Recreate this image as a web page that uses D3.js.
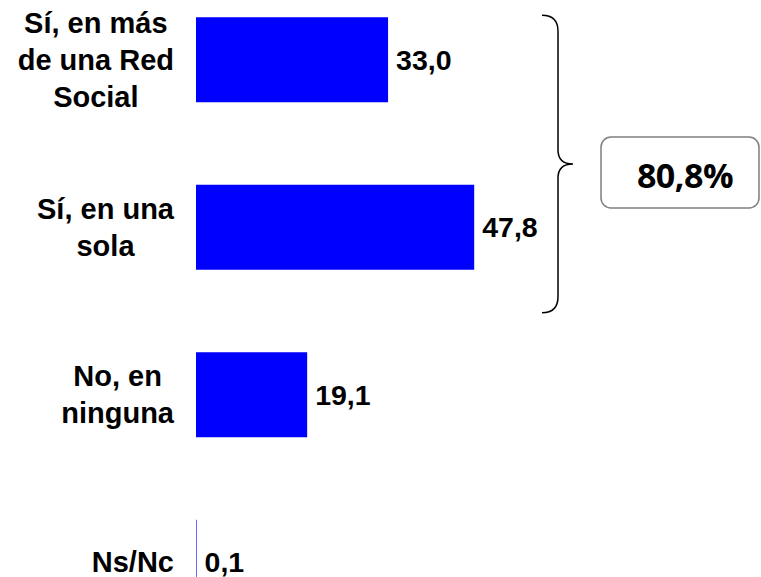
<!DOCTYPE html>
<html>
<head>
<meta charset="utf-8">
<script src="https://cdn.jsdelivr.net/npm/d3@7"></script>
<style>
  body { margin: 0; background: #fff; }
</style>
</head>
<body>
<script>
var w = 761;
var h = 577;

var categories = ["Sí, en más\nde una Red\nSocial", "Sí, en una\nsola", "No, en\nninguna", "Ns/Nc"];
var values = [33.0, 47.8, 19.1, 0.1];
var grouped = [0, 1]; // bars covered by the brace

var svg = d3.select("body")
    .append("svg")
    .attr("width", w)
    .attr("height", h);

var x = d3.scaleLinear().domain([0, 50]).range([196, 487]);
var y = d3.scaleBand()
    .domain(categories)
    .range([-24, 646])
    .paddingInner(0.4925)
    .paddingOuter(0.24625);

function fmt(v) {
    return d3.format(".1f")(v).replace(".", ",");
}

svg.selectAll("rect.bar")
    .data(values)
    .enter()
    .append("rect")
    .attr("class", "bar")
    .attr("x", x(0))
    .attr("y", function(d, i) { return y(categories[i]); })
    .attr("width", function(d) { return x(d) - x(0); })
    .attr("height", y.bandwidth())
    .attr("fill", "#0000ff");

// value labels
svg.selectAll("text.val")
    .data(values)
    .enter()
    .append("text")
    .attr("class", "val")
    .text(fmt)
    .attr("x", function(d) { return x(d) + 8; })
    .attr("y", function(d, i) { return y(categories[i]) + y.bandwidth() / 2 + 10; })
    .attr("font-family", "Liberation Sans, Arial, sans-serif")
    .attr("font-weight", "bold")
    .attr("font-size", 28.5)
    .attr("fill", "#000");

// category labels: block right aligned, lines centred in block
var lineH = 37;
var right = 174;
categories.forEach(function(c) {
    var lines = c.split("\n");
    var g = svg.append("g");
    var cy = y(c) + y.bandwidth() / 2 + 10;
    var t = g.selectAll("text")
        .data(lines)
        .enter()
        .append("text")
        .text(function(d) { return d; })
        .attr("y", function(d, i) { return cy + (i - (lines.length - 1) / 2) * lineH; })
        .attr("font-family", "Liberation Sans, Arial, sans-serif")
        .attr("font-weight", "bold")
        .attr("font-size", 29)
        .attr("text-anchor", "middle")
        .attr("fill", "#000");
    var maxW = 0;
    t.each(function() { maxW = Math.max(maxW, this.getComputedTextLength()); });
    t.attr("x", right - maxW / 2);
});

// brace
var bTop = y(categories[grouped[0]]) - 2;
var bBot = y(categories[grouped[grouped.length - 1]]) + y.bandwidth() + 43;
var mid = (bTop + bBot) / 2;
var bx = 558, ex = 542, tip = 573;
var brace = d3.path();
brace.moveTo(ex, bTop);
brace.quadraticCurveTo(bx, bTop, bx, bTop + 16);
brace.lineTo(bx, mid - 14);
brace.quadraticCurveTo(bx, mid, tip, mid);
brace.quadraticCurveTo(bx, mid, bx, mid + 14);
brace.lineTo(bx, bBot - 16);
brace.quadraticCurveTo(bx, bBot, ex, bBot);
svg.append("path")
    .attr("d", brace.toString())
    .attr("fill", "none")
    .attr("stroke", "#000")
    .attr("stroke-width", 1.5);

// total box
var total = d3.sum(grouped, function(i) { return values[i]; });
svg.append("rect")
    .attr("x", 601)
    .attr("y", 137)
    .attr("width", 158)
    .attr("height", 71)
    .attr("rx", 10)
    .attr("fill", "#fff")
    .attr("stroke", "#7f7f7f")
    .attr("stroke-width", 1.5);
svg.append("text")
    .text(fmt(total) + "%")
    .attr("x", 685)
    .attr("y", 188)
    .attr("text-anchor", "middle")
    .attr("font-family", "Open Sans, sans-serif")
    .attr("font-weight", "bold")
    .attr("font-size", 34)
    .attr("letter-spacing", -0.5)
    .attr("fill", "#000");
</script>
</body>
</html>
